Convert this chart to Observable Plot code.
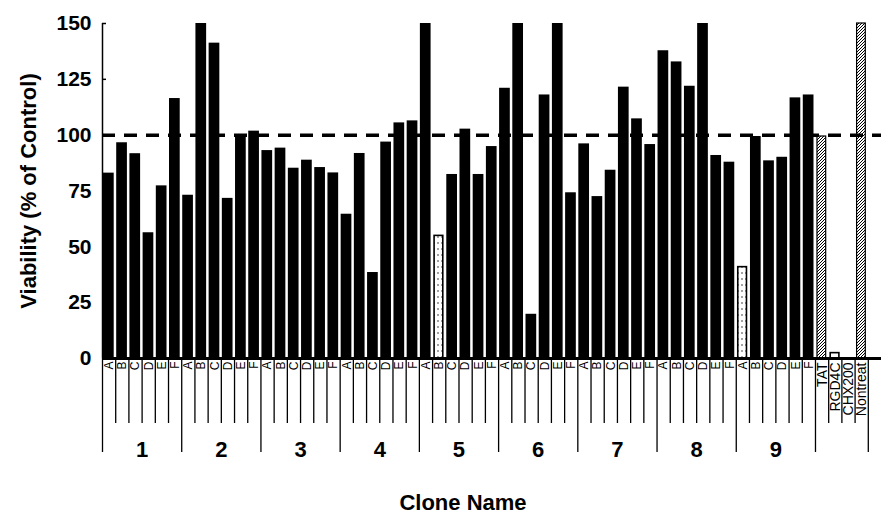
<!DOCTYPE html>
<html>
<head>
<meta charset="utf-8">
<script src="https://cdn.jsdelivr.net/npm/d3@7"></script>
<script src="https://cdn.jsdelivr.net/npm/@observablehq/plot@0.6"></script>
<style>
  html, body { margin: 0; padding: 0; background: white; }
  #chart { width: 887px; height: 516px; }
</style>
</head>
<body>
<div id="chart"></div>
<script>
// ---- data ----
const clones = ["1", "2", "3", "4", "5", "6", "7", "8", "9"];
const subs = ["A", "B", "C", "D", "E", "F"];
const clone1 = [83, 96.6, 91.7, 56.3, 77.3, 116.4];
const clone2 = [73.1, 150, 141.2, 71.7, 100.2, 101.8];
const clone3 = [93.1, 94.2, 85.2, 88.8, 85.5, 83.1];
const clone4 = [64.6, 91.8, 38.5, 96.9, 105.5, 106.4];
const clone5 = [150, 54.9, 82.4, 102.7, 82.4, 94.9];
const clone6 = [121, 150, 19.8, 118, 150, 74.2];
const clone7 = [96.1, 72.5, 84.3, 121.5, 107.3, 95.8];
const clone8 = [137.8, 132.8, 121.9, 150, 90.9, 87.9];
const clone9 = [40.9, 99.4, 88.5, 90.1, 116.7, 118];
const controls = ["TAT", "RGD4C", "CHX200", "Nontreat"];
const controlValues = [99.4, 2.4, 0, 150];
const yTicks = [0, 25, 50, 75, 100, 125, 150];
const reference = 100;
const dottedBars = ["5B", "9A"];
const hatchedBars = ["TAT", "Nontreat"];
const openBars = ["RGD4C"];

// ---- build table ----
const cloneValues = [clone1, clone2, clone3, clone4, clone5, clone6, clone7, clone8, clone9];
const rows = [];
cloneValues.forEach((vals, g) => vals.forEach((v, s) => {
  rows.push({i: rows.length, name: clones[g] + subs[s], label: subs[s], v, control: false});
}));
controls.forEach((c, k) => rows.push({i: rows.length, name: c, label: c, v: controlValues[k], control: true}));
const n = rows.length;

const kind = d => dottedBars.includes(d.name) ? "dots" : hatchedBars.includes(d.name) ? "hatch" : openBars.includes(d.name) ? "open" : "solid";
const solid = rows.filter(d => kind(d) === "solid");
const dots = rows.filter(d => kind(d) === "dots");
const hatch = rows.filter(d => kind(d) === "hatch");
const open = rows.filter(d => kind(d) === "open" && d.v > 0);

const letterRows = rows.filter(d => !d.control);
const controlRows = rows.filter(d => d.control);
const labelMap = new Map(rows.map(d => [d.i + 0.5, d.label]));
const groupStarts = clones.map((c, g) => g * subs.length);
const nClone = clones.length * subs.length;
const longTicks = [...groupStarts, nClone, n];
const shortTicks = d3.range(1, n).filter(t => !longTicks.includes(t));
const groupCenters = clones.map((c, g) => g * subs.length + subs.length / 2);
const groupMap = new Map(groupCenters.map((c, g) => [c, clones[g]]));

const barOpts = {x1: "i", x2: d => d.i + 1, y1: 0, y2: "v"};

const chart = Plot.plot({
  width: 887,
  height: 516,
  marginLeft: 102,
  marginRight: 6,
  marginTop: 23,
  marginBottom: 158,
  style: {fontFamily: "'Liberation Sans', Arial, sans-serif", background: "white", color: "black"},
  x: {domain: [0, n + 1]},
  y: {domain: [0, 150]},
  marks: [
    Plot.rect(solid, {...barOpts, fill: "black", insetLeft: 1, insetRight: 1.5}),
    Plot.rect(dots, {...barOpts, fill: "url(#dots)", stroke: "black", strokeWidth: 1.6, insetLeft: 2, insetRight: 2.5}),
    Plot.rect(hatch, {...barOpts, fill: "url(#hatch)", stroke: "black", strokeWidth: 1.2, insetLeft: 2, insetRight: 2.5}),
    Plot.rect(open, {...barOpts, fill: "white", stroke: "black", strokeWidth: 1.6, insetLeft: 2, insetRight: 2.5}),
    Plot.ruleY([reference], {stroke: "black", strokeWidth: 3.5, strokeDasharray: "13,9"}),
    Plot.ruleY([0], {stroke: "black", strokeWidth: 3}),
    Plot.ruleX([0], {stroke: "black", strokeWidth: 1.5}),
    Plot.axisY(yTicks, {tickSize: -4, tickPadding: 15, fontSize: 21, fontWeight: "bold", label: null, strokeWidth: 1.5}),
    Plot.axisX(shortTicks, {tickSize: 65, tickFormat: () => "", strokeWidth: 1.3, label: null}),
    Plot.axisX(longTicks, {tickSize: 94, tickFormat: () => "", strokeWidth: 1.3, label: null}),
    Plot.axisX(letterRows.map(d => d.i + 0.5), {tickSize: 0, tickPadding: 3, tickRotate: -90, tickFormat: v => labelMap.get(v), fontSize: 12, label: null}),
    Plot.axisX(controlRows.map(d => d.i + 0.5), {tickSize: 0, tickPadding: 4, tickRotate: -90, tickFormat: v => labelMap.get(v), fontSize: 14, label: null}),
    Plot.axisX(groupCenters, {tickSize: 0, tickPadding: 83, tickFormat: v => groupMap.get(v), fontSize: 22, fontWeight: "bold", label: null}),
    Plot.text(["Viability (% of Control)"], {frameAnchor: "left", textAnchor: "middle", rotate: -90, dx: -74, fontSize: 22, fontWeight: "bold"}),
    Plot.text(["Clone Name"], {frameAnchor: "bottom", textAnchor: "middle", dx: -29, dy: 151, fontSize: 22, fontWeight: "bold"})
  ]
});

// patterns for the special bars
const ns = "http://www.w3.org/2000/svg";
const defs = document.createElementNS(ns, "defs");
defs.innerHTML = `
  <pattern id="dots" width="4" height="6" patternUnits="userSpaceOnUse">
    <rect width="4" height="6" fill="white"></rect>
    <circle cx="2" cy="3" r="0.7" fill="black"></circle>
  </pattern>
  <pattern id="hatch" width="3" height="3" patternUnits="userSpaceOnUse">
    <rect width="3" height="3" fill="white"></rect>
    <path d="M-1,1 l2,-2 M0,3 l3,-3 M2,4 l2,-2" stroke="black" stroke-width="1"></path>
  </pattern>`;
chart.insertBefore(defs, chart.firstChild);
document.getElementById("chart").appendChild(chart);
</script>
</body>
</html>
